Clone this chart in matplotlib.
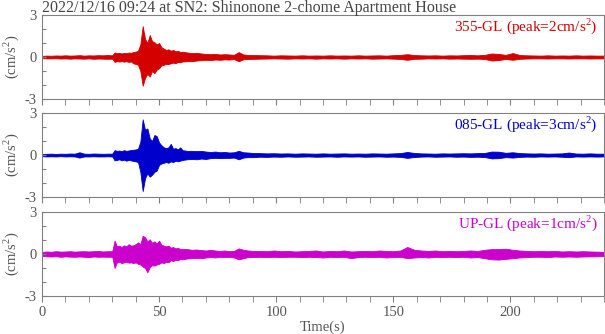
import matplotlib
matplotlib.use("Agg")
import matplotlib.pyplot as plt

plt.rcParams["font.family"] = ["Liberation Serif", "DejaVu Serif"]
plt.rcParams["mathtext.fontset"] = "custom"
plt.rcParams["mathtext.rm"] = "Liberation Serif"
plt.rcParams["axes.unicode_minus"] = False

title = "2022/12/16 09:24 at SN2: Shinonone 2-chome Apartment House"

# sample times (s) of the envelope
time_s = [0, 2, 4, 6, 8, 10, 12, 14, 16, 18, 20, 22, 24, 26, 28,
          30, 31, 32, 33, 34, 35, 36, 37, 38, 39, 40, 41, 42, 43, 44, 45,
          46, 47, 48, 49, 50, 51, 52, 53, 54, 55, 56, 57, 58, 59, 60,
          62, 64, 66, 68, 70, 72, 74, 76, 78, 80, 82, 84, 86, 88, 90,
          93, 96, 99, 102, 105, 108, 111, 114, 117, 120, 123, 126, 129, 132,
          135, 138, 141, 144, 147, 150, 153, 156, 159, 162, 165, 168, 171, 174,
          177, 180, 183, 186, 189, 192, 195, 198, 201, 204, 207, 210, 213, 216,
          219, 222, 225, 228, 231, 234, 237, 240]

# 355-GL upper / lower envelope (cm/s2)
ns_hi = [0.08, 0.10, 0.09, 0.11, 0.10, 0.12, 0.10, 0.11, 0.13, 0.10, 0.12, 0.11, 0.13, 0.12, 0.14,
         0.12, 0.32, 0.28, 0.30, 0.25, 0.30, 0.27, 0.32, 0.30, 0.35, 0.38, 0.45, 0.90, 2.20, 1.30, 1.00,
         1.57, 1.14, 1.05, 0.90, 1.00, 0.70, 0.60, 0.50, 0.55, 0.45, 0.50, 0.40, 0.45, 0.35, 0.38,
         0.32, 0.28, 0.30, 0.25, 0.22, 0.20, 0.22, 0.18, 0.20, 0.18, 0.16, 0.35, 0.18, 0.15, 0.14,
         0.13, 0.12, 0.10, 0.12, 0.11, 0.10, 0.12, 0.10, 0.11, 0.10, 0.12, 0.10, 0.11, 0.10,
         0.12, 0.10, 0.11, 0.12, 0.10, 0.13, 0.15, 0.20, 0.14, 0.12, 0.11, 0.12, 0.10, 0.12,
         0.11, 0.13, 0.14, 0.12, 0.15, 0.25, 0.22, 0.15, 0.28, 0.14, 0.12, 0.11, 0.10, 0.12,
         0.10, 0.11, 0.10, 0.12, 0.10, 0.11, 0.10, 0.10]
ns_lo = [-0.08, -0.10, -0.10, -0.09, -0.11, -0.10, -0.12, -0.10, -0.11, -0.12, -0.10, -0.13, -0.11, -0.12, -0.13,
         -0.12, -0.35, -0.30, -0.32, -0.30, -0.33, -0.30, -0.35, -0.32, -0.45, -0.50, -0.55, -1.00, -2.05, -1.50, -1.20,
         -1.40, -1.00, -1.15, -0.90, -0.80, -0.60, -0.55, -0.50, -0.50, -0.45, -0.40, -0.45, -0.35, -0.38, -0.32,
         -0.30, -0.30, -0.25, -0.22, -0.20, -0.22, -0.18, -0.20, -0.17, -0.18, -0.15, -0.30, -0.16, -0.14, -0.13,
         -0.12, -0.11, -0.10, -0.11, -0.12, -0.10, -0.11, -0.10, -0.12, -0.10, -0.11, -0.10, -0.12, -0.10,
         -0.11, -0.10, -0.12, -0.11, -0.10, -0.12, -0.14, -0.20, -0.13, -0.12, -0.10, -0.11, -0.10, -0.12,
         -0.11, -0.12, -0.13, -0.12, -0.14, -0.25, -0.22, -0.14, -0.20, -0.13, -0.11, -0.10, -0.10, -0.11,
         -0.10, -0.10, -0.11, -0.10, -0.10, -0.11, -0.10, -0.10]

# 085-GL
ew_hi = [0.08, 0.09, 0.10, 0.08, 0.10, 0.09, 0.11, 0.10, 0.20, 0.10, 0.09, 0.11, 0.10, 0.09, 0.10,
         0.10, 0.35, 0.30, 0.32, 0.28, 0.35, 0.30, 0.33, 0.36, 0.38, 0.40, 0.45, 0.95, 2.55, 1.80, 1.90,
         1.20, 1.00, 1.43, 1.35, 0.90, 0.70, 0.55, 0.50, 0.55, 0.80, 0.45, 0.50, 0.40, 0.55, 0.35,
         0.30, 0.30, 0.28, 0.30, 0.25, 0.22, 0.25, 0.20, 0.22, 0.18, 0.20, 0.30, 0.20, 0.18, 0.15,
         0.14, 0.12, 0.13, 0.11, 0.12, 0.10, 0.12, 0.11, 0.10, 0.12, 0.10, 0.11, 0.12, 0.10,
         0.11, 0.10, 0.12, 0.11, 0.10, 0.12, 0.14, 0.22, 0.15, 0.12, 0.11, 0.10, 0.12, 0.11,
         0.12, 0.13, 0.12, 0.14, 0.15, 0.25, 0.24, 0.16, 0.20, 0.14, 0.12, 0.11, 0.12, 0.10,
         0.11, 0.12, 0.18, 0.11, 0.10, 0.12, 0.10, 0.10]
ew_lo = [-0.08, -0.10, -0.09, -0.10, -0.08, -0.10, -0.09, -0.10, -0.18, -0.10, -0.10, -0.09, -0.10, -0.10, -0.09,
         -0.10, -0.38, -0.35, -0.30, -0.38, -0.33, -0.40, -0.35, -0.38, -0.42, -0.45, -0.50, -1.20, -2.57, -1.67, -1.30,
         -1.55, -1.40, -1.20, -1.10, -0.70, -0.60, -0.55, -0.50, -0.55, -0.45, -0.50, -0.40, -0.45, -0.40, -0.35,
         -0.30, -0.28, -0.30, -0.25, -0.28, -0.22, -0.20, -0.22, -0.20, -0.20, -0.18, -0.30, -0.18, -0.15, -0.15,
         -0.12, -0.13, -0.11, -0.12, -0.10, -0.12, -0.11, -0.10, -0.12, -0.11, -0.10, -0.12, -0.10, -0.11,
         -0.10, -0.12, -0.11, -0.10, -0.12, -0.11, -0.13, -0.20, -0.14, -0.11, -0.10, -0.12, -0.11, -0.10,
         -0.12, -0.11, -0.13, -0.12, -0.14, -0.24, -0.22, -0.15, -0.18, -0.13, -0.11, -0.12, -0.10, -0.11,
         -0.10, -0.12, -0.15, -0.10, -0.11, -0.10, -0.11, -0.10]

# UP-GL
ud_hi = [0.15, 0.18, 0.16, 0.20, 0.17, 0.18, 0.20, 0.17, 0.19, 0.20, 0.18, 0.20, 0.22, 0.18, 0.20,
         0.20, 0.95, 0.55, 0.60, 0.50, 0.62, 0.55, 0.70, 0.60, 0.62, 0.70, 0.83, 0.70, 1.30, 1.20, 0.90,
         1.05, 0.80, 0.90, 0.75, 0.95, 0.65, 0.60, 0.55, 0.60, 0.45, 0.50, 0.40, 0.45, 0.35, 0.35,
         0.35, 0.30, 0.32, 0.28, 0.25, 0.30, 0.25, 0.22, 0.25, 0.20, 0.22, 0.40, 0.30, 0.25, 0.22,
         0.22, 0.20, 0.25, 0.20, 0.22, 0.18, 0.20, 0.22, 0.25, 0.18, 0.22, 0.20, 0.25, 0.18,
         0.20, 0.22, 0.20, 0.25, 0.22, 0.20, 0.25, 0.50, 0.30, 0.25, 0.22, 0.25, 0.20, 0.22,
         0.20, 0.22, 0.25, 0.22, 0.30, 0.35, 0.35, 0.38, 0.30, 0.25, 0.22, 0.20, 0.22, 0.20,
         0.22, 0.18, 0.20, 0.18, 0.20, 0.18, 0.17, 0.15]
ud_lo = [-0.14, -0.17, -0.18, -0.16, -0.20, -0.17, -0.19, -0.20, -0.18, -0.20, -0.22, -0.18, -0.20, -0.19, -0.20,
         -0.20, -1.00, -0.60, -0.55, -0.65, -0.60, -0.55, -0.62, -0.60, -0.65, -0.60, -0.70, -0.75, -0.90, -1.00, -1.30,
         -0.95, -0.80, -0.83, -0.75, -0.70, -0.60, -0.65, -0.55, -0.60, -0.45, -0.50, -0.42, -0.45, -0.35, -0.38,
         -0.32, -0.30, -0.28, -0.30, -0.25, -0.22, -0.25, -0.20, -0.22, -0.20, -0.25, -0.38, -0.30, -0.22, -0.22,
         -0.20, -0.22, -0.20, -0.22, -0.20, -0.20, -0.22, -0.20, -0.22, -0.25, -0.20, -0.22, -0.20, -0.30,
         -0.22, -0.20, -0.22, -0.20, -0.25, -0.22, -0.20, -0.30, -0.25, -0.22, -0.25, -0.20, -0.22, -0.20,
         -0.22, -0.20, -0.25, -0.22, -0.30, -0.38, -0.40, -0.35, -0.30, -0.25, -0.22, -0.20, -0.20, -0.22,
         -0.18, -0.20, -0.18, -0.20, -0.18, -0.17, -0.16, -0.15]

channels = ["355-GL", "085-GL", "UP-GL"]
peaks = [2, 3, 1]
colors = ["#d40000", "#0000cc", "#cc00cc"]
envelopes = [(ns_hi, ns_lo), (ew_hi, ew_lo), (ud_hi, ud_lo)]

grey = "#808080"
fig = plt.figure(figsize=(6.05, 3.34), dpi=100)
bottoms = [0.7036, 0.410, 0.1138]
axes = [fig.add_axes([0.0694, b, 0.929, 0.2515]) for b in bottoms]

for i, ax in enumerate(axes):
    hi, lo = envelopes[i]
    ax.fill_between(time_s, lo, hi, color=colors[i], linewidth=0.6)
    ax.set_xlim(0, 240)
    ax.set_ylim(-3, 3)
    ax.set_yticks([-3, -2, -1, 0, 1, 2, 3])
    ax.set_yticklabels(["-3", "", "", "0", "", "", "3"])
    ax.set_xticks(range(0, 241, 50))
    ax.set_xticks(range(0, 241, 10), minor=True)
    ax.tick_params(axis="y", direction="in", length=3, color=grey,
                   labelcolor="#555555", labelsize=10.5, pad=4)
    ax.tick_params(axis="x", which="both", direction="out", length=4,
                   color=grey, labelcolor="#555555", labelsize=10.5)
    if i < 2:
        ax.tick_params(axis="x", labelbottom=False)
    for s in ax.spines.values():
        s.set_color(grey)
        s.set_linewidth(0.8)
    ax.set_ylabel("(cm/s$^2$)", color="#555555", fontsize=10.5)
    ax.yaxis.set_label_coords(-0.038, 0.5)
    ax.text(0.989, 0.985,
            f"{channels[i]} (peak={peaks[i]}cm/s$^2$)",
            transform=ax.transAxes, ha="right", va="top",
            color=colors[i], fontsize=11)

axes[2].set_xlabel("Time(s)", color="#555555", fontsize=10.5, labelpad=1)
fig.text(0.069, 1.0, title, ha="left", va="top", color="#444444", fontsize=11.5)

fig.savefig("out.png", dpi=100)
